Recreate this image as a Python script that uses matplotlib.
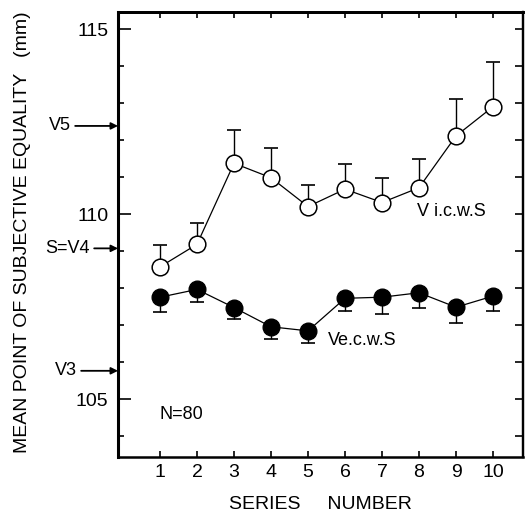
import numpy as np
import matplotlib
matplotlib.use("Agg")
import matplotlib.pyplot as plt

plt.rcParams['font.family'] = ['Liberation Sans', 'DejaVu Sans']

# series numbers
series = np.arange(1, 11)

# V i.c.w.S (open circles), mean PSE and upper error
vicws_mean = [108.58, 109.19, 111.38, 110.99, 110.21, 110.68, 110.32, 110.72, 112.12, 112.91]
vicws_err = [0.59, 0.58, 0.90, 0.79, 0.57, 0.68, 0.67, 0.78, 0.99, 1.20]

# V e.c.w.S (filled circles), mean PSE and lower error
vecws_mean = [107.76, 107.97, 107.48, 106.96, 106.85, 107.73, 107.76, 107.88, 107.49, 107.79]
vecws_err = [0.40, 0.33, 0.32, 0.34, 0.32, 0.34, 0.45, 0.40, 0.42, 0.40]

# reference stimuli marked on the y axis
ref_labels = ['V5', 'S=V4', 'V3']
ref_values = [112.39, 109.08, 105.77]
ref_offsets = [-47, -28, -41]

fig = plt.figure(figsize=(5.29, 5.15), dpi=100)
ax = fig.add_axes([118 / 529, 58 / 515, 405 / 529, 445 / 515])

zeros = np.zeros(len(series))

# error bars first, markers on top
ax.errorbar(series, vicws_mean, yerr=[zeros, vicws_err], fmt='none',
            ecolor='black', elinewidth=1.0, capsize=5.2, capthick=1.2, zorder=1)
ax.errorbar(series, vecws_mean, yerr=[vecws_err, zeros], fmt='none',
            ecolor='black', elinewidth=1.0, capsize=5.2, capthick=1.2, zorder=1)

ax.plot(series, vicws_mean, color='black', lw=0.9, marker='o', ms=12,
        mfc='white', mec='black', mew=1.1, zorder=3)
ax.plot(series, vecws_mean, color='black', lw=0.9, marker='o', ms=12,
        mfc='black', mec='black', zorder=3)

ax.text(7.94, 110.07, 'V i.c.w.S', fontsize=13, ha='left', va='center')
ax.text(5.54, 106.60, 'Ve.c.w.S', fontsize=13, ha='left', va='center')
ax.text(1.0, 104.60, 'N=80', fontsize=13, ha='left', va='center')

ax.set_xlim(-0.135, 10.81)
ax.set_ylim(103.44, 115.47)

ax.set_xticks(series)
ax.set_yticks([105, 110, 115])
ax.set_yticks(np.arange(104, 116), minor=True)
ax.tick_params(axis='both', which='both', direction='in', labelsize=14)
ax.tick_params(axis='y', which='major', length=9.5, width=1.2, pad=7)
ax.tick_params(axis='y', which='minor', length=4.5, width=1.2)
ax.tick_params(axis='x', which='major', length=4.5, width=1.2, pad=5)

# extra tick marks on top and right
sec_x = ax.secondary_xaxis('top')
sec_x.set_xticks(series)
sec_x.tick_params(direction='in', length=4.5, width=1.2, labeltop=False)
sec_y = ax.secondary_yaxis('right')
sec_y.set_yticks(np.arange(104, 116))
sec_y.tick_params(direction='in', length=6, width=1.2, labelright=False)
for s in sec_x.spines.values():
    s.set_linewidth(2.0)
for s in sec_y.spines.values():
    s.set_linewidth(1.6)

ax.spines['left'].set_linewidth(2.2)
ax.spines['bottom'].set_linewidth(1.8)
ax.spines['top'].set_linewidth(2.0)
ax.spines['right'].set_linewidth(1.6)

ax.set_xlabel('SERIES     NUMBER', fontsize=14, labelpad=11)
ax.set_ylabel('MEAN POINT OF SUBJECTIVE EQUALITY   (mm)', fontsize=14)
ax.yaxis.set_label_coords(-0.215, 0.505)

for lab, val, off in zip(ref_labels, ref_values, ref_offsets):
    ax.annotate(lab, xy=(0, val), xycoords=('axes fraction', 'data'),
                xytext=(off, 0), textcoords='offset pixels',
                ha='right', va='center', fontsize=13, annotation_clip=False,
                arrowprops=dict(arrowstyle='-|>', color='black', lw=1.3,
                                shrinkA=1, shrinkB=0, mutation_scale=10))

fig.savefig('out.png', dpi=100)
